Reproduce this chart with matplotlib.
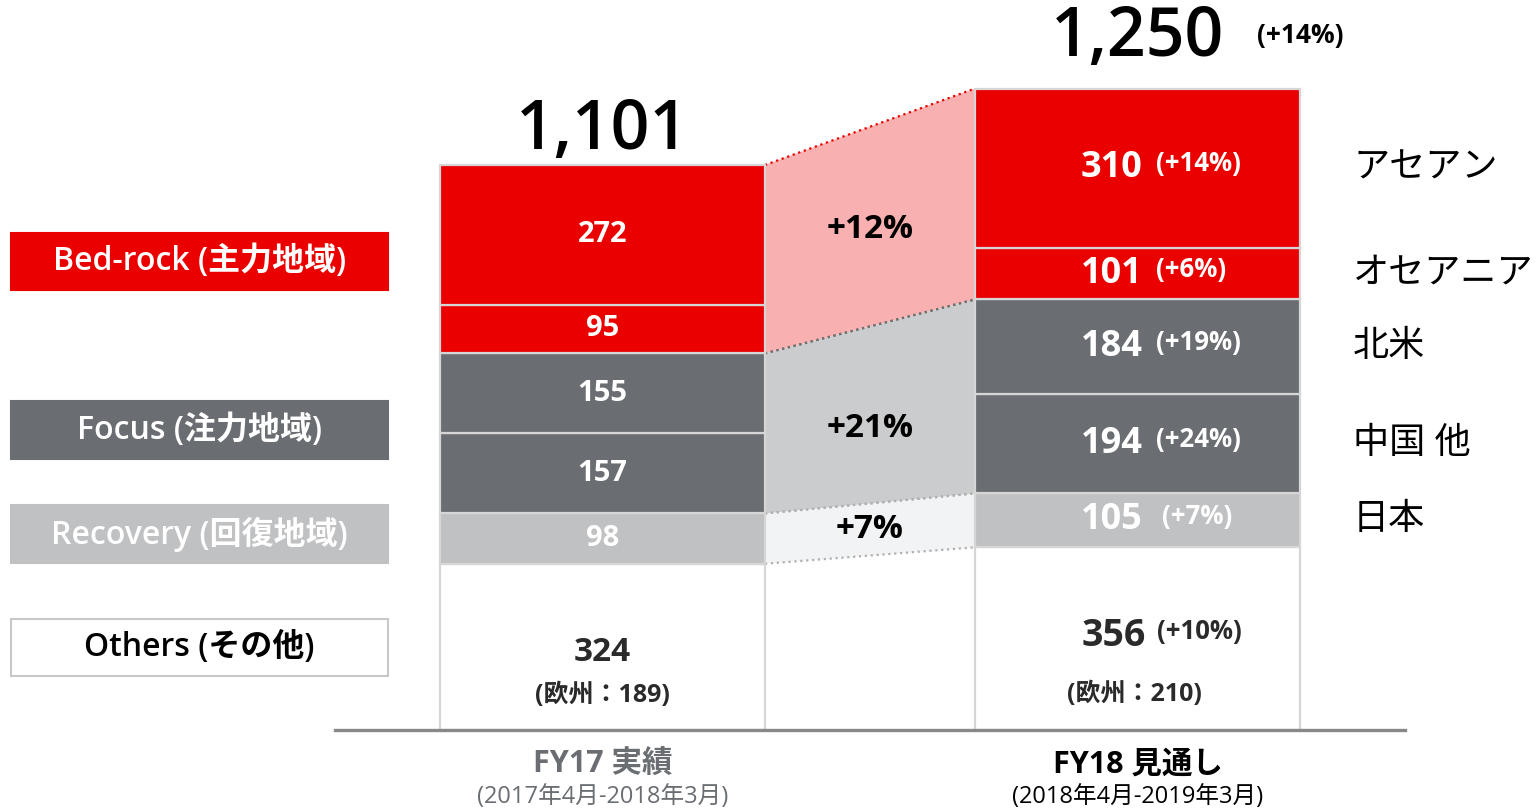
import matplotlib
matplotlib.use('Agg')
from matplotlib import pyplot as plt
from matplotlib.patches import Rectangle

plt.rcParams['font.family'] = ['Open Sans', 'Noto Sans CJK JP', 'DejaVu Sans']

# data (stacked bottom -> top)
periods = ['FY17 実績', 'FY18 見通し']
period_ranges = ['(2017年4月-2018年3月)', '(2018年4月-2019年3月)']
others = [324, 356]
japan = [98, 105]
china = [157, 194]
north_america = [155, 184]
oceania = [95, 101]
asean = [272, 310]
europe = [189, 210]
region_names = ['日本', '中国 他', '北米', 'オセアニア', 'アセアン']
region_growth = ['(+7%)', '(+24%)', '(+19%)', '(+6%)', '(+14%)']
others_growth = '(+10%)'
group_growth = ['+7%', '+21%', '+12%']  # recovery, focus, bed-rock
total_growth = '(+14%)'
legend_labels = ['Bed-rock (主力地域)', 'Focus (注力地域)', 'Recovery (回復地域)', 'Others (その他)']

RED = '#eb0000'
DARK = '#6a6e72'
LIGHT = '#bfc1c3'
EDGE = '#d6d6d6'

fig = plt.figure(figsize=(15.4, 8.08), dpi=100)
ax = fig.add_axes([0, 0, 1, 1])
ax.set_xlim(0, 1540)
ax.set_ylim(-152, 1422.5)
ax.axis('off')

xs = [602.5, 1137.5]
w = 325
segments = [others, japan, china, north_america, oceania, asean]
colors = ['white', LIGHT, DARK, DARK, RED, RED]

bottoms = [0, 0]
cum = []
for vals, c in zip(segments, colors):
    ax.bar(xs, vals, width=w, bottom=bottoms, color=c, edgecolor=EDGE, linewidth=1.6, zorder=2)
    cum.append(list(bottoms))
    bottoms = [b + v for b, v in zip(bottoms, vals)]
totals = bottoms

# connecting bands between the bars
xl = xs[0] + w / 2
xr = xs[1] - w / 2
lvl = lambda i: [cum[i][0], cum[i][1]]  # cumulative bottom of segment i
bands = [
    (lvl(1), lvl(2), '#f2f3f4', '#b0b0b0', '#b0b0b0', 0),
    (lvl(2), lvl(4), '#cbcccd', '#b0b0b0', '#707070', -10),
    (lvl(4), totals, '#f8b0b0', '#707070', RED, -2),
]
for (lo, hi, fc, lc_lo, lc_hi, dy), txt in zip(bands, group_growth):
    ax.fill([xl, xr, xr, xl], [lo[0], lo[1], hi[1], hi[0]], color=fc, lw=0, zorder=1)
    ax.plot([xl, xr], lo, ls=':', color=lc_lo, lw=1.6, zorder=1.5)
    ax.plot([xl, xr], hi, ls=':', color=lc_hi, lw=1.6, zorder=1.5)
    yc = (lo[0] + lo[1] + hi[0] + hi[1]) / 4
    ax.annotate(txt, ((xl + xr) / 2, yc), xytext=(0, dy), textcoords='offset points',
                ha='center', va='center', fontsize=24, fontweight='bold', color='black', zorder=3)

# left bar labels
for i, vals in enumerate(segments[1:], start=1):
    y = cum[i][0] + vals[0] / 2
    ax.text(xs[0], y, str(vals[0]), ha='center', va='center', fontsize=21,
            fontweight='bold', color='white', zorder=3)
ax.annotate(str(others[0]), (xs[0], others[0] * 0.5), xytext=(0, -4), textcoords='offset points',
            ha='center', va='center', fontsize=24, fontweight='bold', color='#2a2a2a', zorder=3)
ax.annotate('(欧州：%d)' % europe[0], (xs[0], others[0] * 0.5), xytext=(0, -35),
            textcoords='offset points', ha='center', va='center', fontsize=18,
            fontweight='bold', color='#2a2a2a', zorder=3)

# right bar labels
for i, vals in enumerate(segments[1:], start=1):
    y = cum[i][1] + vals[1] / 2
    ax.text(xs[1] + 5, y, str(vals[1]), ha='right', va='center', fontsize=26,
            fontweight='bold', color='white', zorder=3)
    ax.annotate(region_growth[i - 1], (xs[1] + 5, y), xytext=(10 if i > 1 else 14, 3),
                textcoords='offset points', ha='left', va='center', fontsize=18.5,
                fontweight='bold', color='white', zorder=3)
    ax.text(1353, y, region_names[i - 1], ha='left', va='center', fontsize=26,
            color='black', zorder=3)
ax.text(xs[1] + 8, others[1] * 0.5 + 6, str(others[1]), ha='right', va='center', fontsize=27,
        fontweight='bold', color='#2a2a2a', zorder=3)
ax.annotate(others_growth, (xs[1] + 8, others[1] * 0.5 + 6), xytext=(8, 3),
            textcoords='offset points', ha='left', va='center', fontsize=18.5,
            fontweight='bold', color='#2a2a2a', zorder=3)
ax.annotate('(欧州：%d)' % europe[1], (xs[1], others[1] * 0.5), xytext=(-2, -40),
            textcoords='offset points', ha='center', va='center', fontsize=18,
            fontweight='bold', color='#2a2a2a', zorder=3)

# totals
ax.annotate('{:,}'.format(totals[0]), (xs[0], totals[0]), xytext=(0, 24),
            textcoords='offset points', ha='center', va='center', fontsize=49,
            fontweight='semibold', color='black')
ax.annotate('{:,}'.format(totals[1]), (xs[1], totals[1]), xytext=(0, 36),
            textcoords='offset points', ha='center', va='center', fontsize=49,
            fontweight='semibold', color='black')
ax.annotate(total_growth, (xs[1], totals[1]), xytext=(86, 38),
            textcoords='offset points', ha='left', va='center', fontsize=19,
            fontweight='bold', color='black')

# baseline and category labels
ax.plot([335, 1405], [0, 0], color='#888888', lw=2.4, zorder=4)
for x, name, rng, c in zip(xs, periods, period_ranges, [DARK, 'black']):
    ax.annotate(name, (x, 0), xytext=(0, -25), textcoords='offset points', ha='center',
                va='center', fontsize=22, fontweight='bold', color=c)
    ax.annotate(rng, (x, 0), xytext=(0, -48), textcoords='offset points', ha='center',
                va='center', fontsize=17, color=c)

# legend boxes on the left
boxes = [(233, 290, RED, 'white', RED), (401, 459, DARK, 'white', DARK),
         (505, 563, LIGHT, 'white', LIGHT), (619, 676, 'white', 'black', '#c8c8c8')]
for (top, bot, fc, tc, ec), lab in zip(boxes, legend_labels):
    ax.add_patch(Rectangle((11 / 1540, 1 - bot / 808), 377 / 1540, (bot - top) / 808,
                           transform=ax.transAxes, facecolor=fc, edgecolor=ec, lw=1.5))
    ax.text(199.5 / 1540, 1 - (top + bot) / 2 / 808, lab, transform=ax.transAxes,
            ha='center', va='center', fontsize=23, color=tc, fontweight='semibold')

fig.savefig('out.png', dpi=100)
